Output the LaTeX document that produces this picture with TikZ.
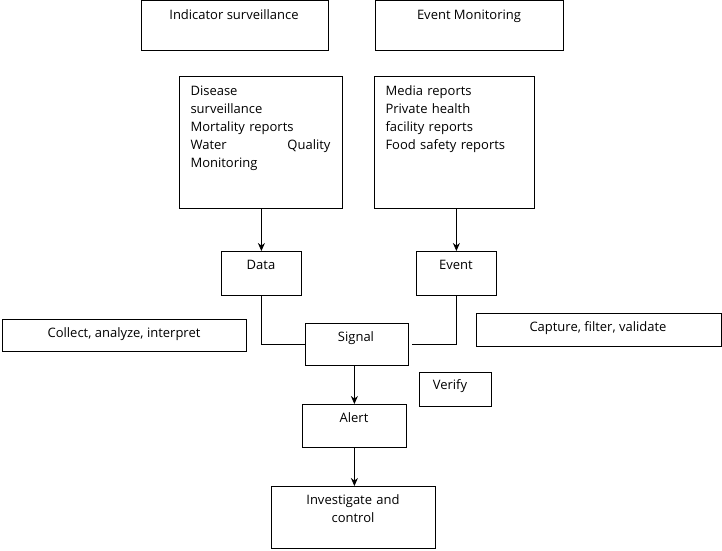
\documentclass[tikz,border=0pt]{standalone}
\usepackage{fontspec}
\setmainfont{Open Sans}
\usetikzlibrary{arrows.meta,positioning}
\tikzset{
  lbl/.style={font=\fontsize{13}{18}\selectfont,anchor=north},
  link/.style={thick},
  flow/.style={thick,-{Stealth[length=8pt,width=7pt]}}
}
\begin{document}
\begin{tikzpicture}[x=1pt,y=-1pt]
\useasboundingbox (0,0) rectangle (722,550);
% top headings
\draw[thick] (141,0) rectangle (328,50);
\node[lbl] (ind) at (234,6) {Indicator surveillance};
\draw[thick] (375,0) rectangle (563,50);
\node[lbl] (evm) at (469,6) {Event Monitoring};
% source lists
\node[draw,thick,anchor=north west,minimum width=163pt,minimum height=132pt] (lsrc) at (179,76) {};
\node[lbl,anchor=north west,text width=140pt,align=left] at (187,82)
  {Disease\\surveillance\\Mortality reports\\Water\hfill Quality\\Monitoring};
\node[draw,thick,anchor=north west,minimum width=160pt,minimum height=132pt] (rsrc) at (374,76) {};
\node[lbl,anchor=north west,text width=150pt,align=left] at (382,82)
  {Media reports\\Private health\\facility reports\\Food safety reports};
% data / event
\node[draw,thick,anchor=north west,minimum width=80pt,minimum height=44pt] (data) at (221,251) {};
\node[lbl] at (261,257) {Data};
\node[draw,thick,anchor=north west,minimum width=80pt,minimum height=44pt] (event) at (416,251) {};
\node[lbl] at (456,257) {Event};
% side notes
\node[draw,thick,anchor=north west,minimum width=244pt,minimum height=32pt] (coll) at (2,319) {};
\node[lbl] at (124,324) {Collect, analyze, interpret};
\node[draw,thick,anchor=north west,minimum width=245pt,minimum height=33pt] (capt) at (476,313) {};
\node[lbl] at (598,318) {Capture, filter, validate};
% signal chain
\node[draw,thick,anchor=north west,minimum width=103pt,minimum height=42pt] (signal) at (305,323) {};
\node[lbl] at (356,328) {Signal};
\node[draw,thick,anchor=north west,minimum width=72pt,minimum height=34pt] (verify) at (419,372) {};
\node[lbl] at (450,376) {Verify};
\node[draw,thick,anchor=north west,minimum width=104pt,minimum height=43pt] (alert) at (302,404) {};
\node[lbl] at (354,409) {Alert};
\node[draw,thick,anchor=north west,minimum width=164pt,minimum height=62pt] (invest) at (271,486) {};
\node[lbl,text width=140pt,align=center] at (353,491) {Investigate and\\control};
% connectors
\draw[flow] (lsrc.south -| data) -- (data.north);
\draw[flow] (rsrc.south -| event) -- (event.north);
\draw[link] (data.south) |- (signal.west);
\draw[link] (event.south) |- ([xshift=3pt]signal.east);
\draw[flow] (signal.south -| alert) -- (alert.north);
\draw[flow] (alert.south) -- (alert.south |- invest.north);
\end{tikzpicture}
\end{document}
